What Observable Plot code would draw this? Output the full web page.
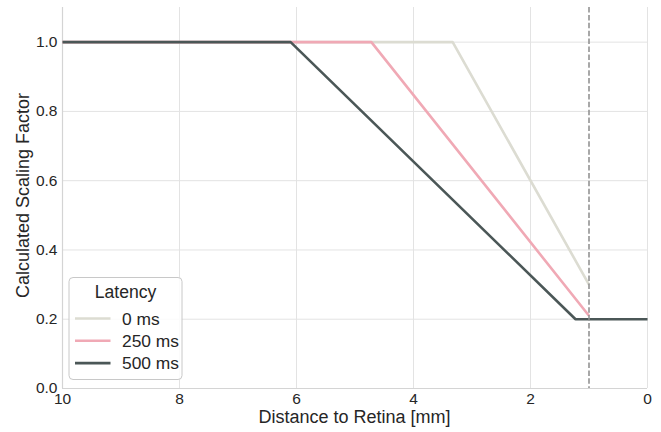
<!DOCTYPE html>
<html>
<head>
<meta charset="utf-8">
<script src="https://cdn.jsdelivr.net/npm/d3@7"></script>
<script src="https://cdn.jsdelivr.net/npm/@observablehq/plot@0.6"></script>
<style>
  html, body { margin: 0; padding: 0; background: #fff; }
  svg { display: block; }
</style>
</head>
<body>
<div id="chart"></div>
<script>
// ---- data ----
const latencies = ["0 ms", "250 ms", "500 ms"];
const colors = ["#dcdcd2", "#f0a9b5", "#4b5757"];
const dist0 = [10, 3.33, 1.0];
const scale0 = [1.0, 1.0, 0.30];
const dist250 = [10, 4.72, 1.0];
const scale250 = [1.0, 1.0, 0.21];
const dist500 = [10, 6.1, 1.23, 0];
const scale500 = [1.0, 1.0, 0.20, 0.20];
const xTicks = [10, 8, 6, 4, 2, 0];
const yTicks = [0.0, 0.2, 0.4, 0.6, 0.8, 1.0];
const markerX = [1.0];
const xLabel = "Distance to Retina [mm]";
const yLabel = "Calculated Scaling Factor";
const legendTitle = "Latency";

// ---- table ----
const series = [[dist0, scale0], [dist250, scale250], [dist500, scale500]];
const rows = [];
series.forEach(([xs, ys], i) => xs.forEach((x, j) => rows.push({latency: latencies[i], x, y: ys[j]})));

const W = 661, H = 432;
const mL = 62, mR = 14, mT = 7, mB = 44;
const font = "Liberation Sans, Arial, sans-serif";

const chart = Plot.plot({
  width: W, height: H,
  marginLeft: mL, marginRight: mR, marginTop: mT, marginBottom: mB,
  style: {fontFamily: font, background: "#fff", color: "#262626", fontSize: "15.5px"},
  x: {domain: [10, 0]},
  y: {domain: [0, 1.1]},
  color: {domain: latencies, range: colors},
  marks: [
    Plot.gridX(xTicks, {stroke: "#e3e3e3", strokeOpacity: 1, strokeWidth: 1}),
    Plot.gridY(yTicks, {stroke: "#e3e3e3", strokeOpacity: 1, strokeWidth: 1}),
    Plot.ruleX([10], {stroke: "#d4d4d4", strokeWidth: 1.2}),
    Plot.ruleY([0], {stroke: "#d4d4d4", strokeWidth: 1.2}),
    Plot.axisX(xTicks, {tickSize: 0, tickPadding: 4.5, fontSize: 15.5, label: null, tickFormat: d => String(d), fill: "#262626"}),
    Plot.axisY(yTicks, {tickSize: 0, tickPadding: 5, fontSize: 15.5, label: null, tickFormat: d3.format(".1f"), fill: "#262626"}),
    Plot.line(rows, {x: "x", y: "y", z: "latency", stroke: "latency", strokeWidth: 2.6, strokeLinejoin: "miter", strokeLinecap: "butt"}),
    Plot.ruleX(markerX, {stroke: "#8c8c8c", strokeWidth: 1.5, strokeDasharray: "5.5,2.4"})
  ]
});

const svg = d3.select(chart);
svg.selectAll("text").attr("font-size", 15.5).style("font-size", "15.5px").style("font-family", font);

// axis titles
svg.append("text")
  .attr("x", (mL + W - mR) / 2).attr("y", 423)
  .attr("text-anchor", "middle")
  .attr("font-family", font).style("font-size", "18px").attr("fill", "#262626")
  .text(xLabel);
svg.append("text")
  .attr("transform", `translate(28.5,${(mT + H - mB) / 2 - 2}) rotate(-90)`)
  .attr("text-anchor", "middle")
  .attr("font-family", font).style("font-size", "18px").attr("fill", "#262626")
  .text(yLabel);

// legend
const lg = svg.append("g");
lg.append("rect")
  .attr("x", 69).attr("y", 277.5).attr("width", 113).attr("height", 102)
  .attr("rx", 4).attr("fill", "#fff").attr("fill-opacity", 0.85)
  .attr("stroke", "#c8c8c8").attr("stroke-width", 1);
lg.append("text")
  .attr("x", 125.5).attr("y", 298)
  .attr("text-anchor", "middle")
  .attr("font-family", font).style("font-size", "17.6px").attr("fill", "#262626")
  .text(legendTitle);
latencies.forEach((name, i) => {
  const y = 318.5 + i * 22.3;
  lg.append("line")
    .attr("x1", 75).attr("x2", 110.5).attr("y1", y).attr("y2", y)
    .attr("stroke", colors[i]).attr("stroke-width", 2.6);
  lg.append("text")
    .attr("x", 122).attr("y", y + 6)
    .attr("text-anchor", "start")
    .attr("font-family", font).style("font-size", "17.4px").attr("fill", "#262626")
    .text(name);
});

document.getElementById("chart").appendChild(chart);
</script>
</body>
</html>
